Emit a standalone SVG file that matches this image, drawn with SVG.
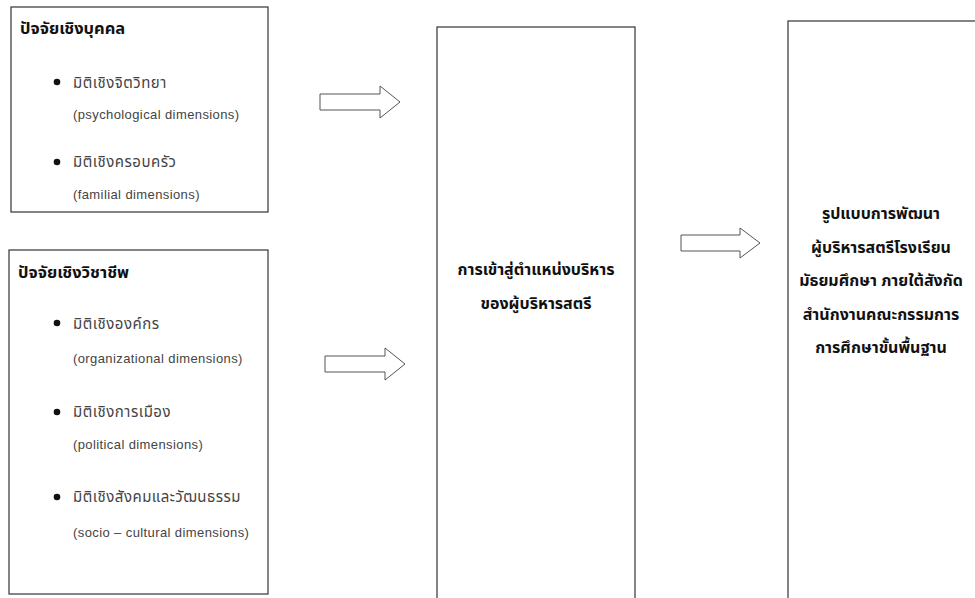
<svg xmlns="http://www.w3.org/2000/svg" width="975" height="598" viewBox="0 0 975 598">
<style>
.box{fill:#fff;stroke:#333;stroke-width:1.2}
.arrow{fill:#fff;stroke:#555;stroke-width:1}
.title{font-family:"Noto Sans Thai","Tahoma","Liberation Sans",sans-serif;font-size:16.5px;font-weight:bold;fill:#111}
.item{font-family:"Noto Sans Thai","Liberation Sans",sans-serif;font-size:15px;fill:#444;letter-spacing:0.5px}
.en{font-family:"Liberation Sans","Noto Sans",sans-serif;font-size:13px;fill:#444;letter-spacing:0.4px}
.center{font-family:"Noto Sans Thai","Tahoma","Liberation Sans",sans-serif;font-size:16px;font-weight:bold;fill:#111;text-anchor:middle}
.dot{fill:#111}
</style>
<rect width="975" height="598" fill="#fff"/>
<g id="personal">
<rect class="box" x="11" y="7" width="257" height="205"/>
<text class="title" x="20" y="34">ปัจจัยเชิงบุคคล</text>
<circle class="dot" cx="57" cy="82" r="3.3"/>
<text class="item" x="73" y="88">มิติเชิงจิตวิทยา</text>
<text class="en" x="73" y="119">(psychological dimensions)</text>
<circle class="dot" cx="57" cy="162" r="3.3"/>
<text class="item" x="73" y="167">มิติเชิงครอบครัว</text>
<text class="en" x="73" y="199">(familial dimensions)</text>
</g>
<g id="professional">
<rect class="box" x="9" y="250" width="259" height="344"/>
<text class="title" x="18" y="278">ปัจจัยเชิงวิชาชีพ</text>
<circle class="dot" cx="57" cy="323" r="3.3"/>
<text class="item" x="73" y="329">มิติเชิงองค์กร</text>
<text class="en" x="73" y="363">(organizational dimensions)</text>
<circle class="dot" cx="57" cy="412" r="3.3"/>
<text class="item" x="73" y="417">มิติเชิงการเมือง</text>
<text class="en" x="73" y="449">(political dimensions)</text>
<circle class="dot" cx="57" cy="497" r="3.3"/>
<text class="item" x="73" y="502">มิติเชิงสังคมและวัฒนธรรม</text>
<text class="en" x="73" y="537">(socio – cultural dimensions)</text>
</g>
<g id="entry">
<rect class="box" x="437" y="27" width="198" height="580"/>
<text class="center" x="536" y="275">การเข้าสู่ตำแหน่งบริหาร</text>
<text class="center" x="536" y="309">ของผู้บริหารสตรี</text>
</g>
<g id="model">
<rect class="box" x="788" y="21" width="200" height="590"/>
<text class="center" x="881" y="219">รูปแบบการพัฒนา</text>
<text class="center" x="881" y="253">ผู้บริหารสตรีโรงเรียน</text>
<text class="center" x="881" y="286">มัธยมศึกษา ภายใต้สังกัด</text>
<text class="center" x="881" y="320">สำนักงานคณะกรรมการ</text>
<text class="center" x="881" y="353">การศึกษาขั้นพื้นฐาน</text>
</g>
<g id="connectors">
<polygon class="arrow" points="320,94 380,94 380,86 400,102 380,118 380,110 320,110"/>
<polygon class="arrow" points="325,356 385,356 385,348 405,364 385,380 385,372 325,372"/>
<polygon class="arrow" points="681,235 740,235 740,228 760,243 740,258 740,251 681,251"/>
</g>
</svg>
